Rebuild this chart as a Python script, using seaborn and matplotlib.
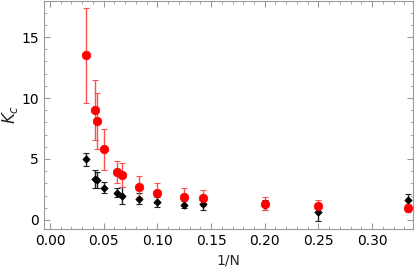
import matplotlib
matplotlib.use("Agg")
import matplotlib.pyplot as plt
import seaborn as sns
import numpy as np
import pandas as pd
from matplotlib.ticker import MultipleLocator

# system sizes and 1/N
N = [30, 24, 23, 20, 16, 15, 12, 10, 8, 7, 5, 4, 3]
inv_n = [1.0 / n for n in N]

# red series (circles)
red_k = [13.5, 9.0, 8.15, 5.8, 3.93, 3.66, 2.73, 2.19, 1.86, 1.78, 1.34, 1.12, 0.96]
red_err = [3.9, 2.45, 2.3, 1.68, 0.9, 1.0, 0.85, 0.8, 0.72, 0.68, 0.55, 0.55, 0.35]

# black series (diamonds)
black_k = [4.97, 3.35, 3.28, 2.65, 2.24, 1.97, 1.72, 1.48, 1.26, 1.34, 1.25, 0.63, 1.61]
black_err = [0.52, 0.75, 0.65, 0.45, 0.4, 0.7, 0.45, 0.42, 0.3, 0.55, 0.4, 0.7, 0.5]

df = pd.DataFrame({"x": inv_n, "red": red_k, "black": black_k})

sns.set_style("ticks")
plt.rcParams["font.family"] = ["DejaVu Sans"]

fig = plt.figure(figsize=(4.15, 2.72), dpi=100)
ax = fig.add_axes([0.106, 0.158, 0.889, 0.84])

# error bars
ax.errorbar(inv_n, black_k, yerr=black_err, fmt="none", ecolor="#222222",
            elinewidth=1.0, capsize=2, capthick=0.8, zorder=2)
ax.errorbar(inv_n, red_k, yerr=red_err, fmt="none", ecolor="#ff5050",
            elinewidth=1.0, capsize=2, capthick=0.8, zorder=2)

sns.scatterplot(data=df, x="x", y="black", ax=ax, marker="D", s=14,
                color="black", edgecolor="black", linewidth=0.5, zorder=3)
sns.scatterplot(data=df, x="x", y="red", ax=ax, marker="o", s=38,
                color="#ff0000", edgecolor="#ff0000", linewidth=0.5, zorder=4)

ax.xaxis.set_major_locator(MultipleLocator(0.05))
ax.xaxis.set_minor_locator(MultipleLocator(0.01))
ax.yaxis.set_major_locator(MultipleLocator(5))
ax.yaxis.set_minor_locator(MultipleLocator(1))
ax.xaxis.set_major_formatter(matplotlib.ticker.FormatStrFormatter("%.2f"))
ax.set_xlim(-0.0056, 0.338)
ax.set_ylim(-0.75, 18.0)

for sp in ax.spines.values():
    sp.set_color("#999999")
    sp.set_linewidth(0.8)
ax.tick_params(which="both", direction="in", top=True, right=True,
               color="#999999", labelsize=10, labelcolor="black")
ax.tick_params(which="major", length=4, width=0.8)
ax.tick_params(which="minor", length=2, width=0.6)

ax.set_xlabel("1/N", fontsize=10, labelpad=4)
ax.set_ylabel("$K_c$", fontsize=12)
ax.yaxis.set_label_coords(-0.065, 0.5)

fig.savefig("out.png", dpi=100)
